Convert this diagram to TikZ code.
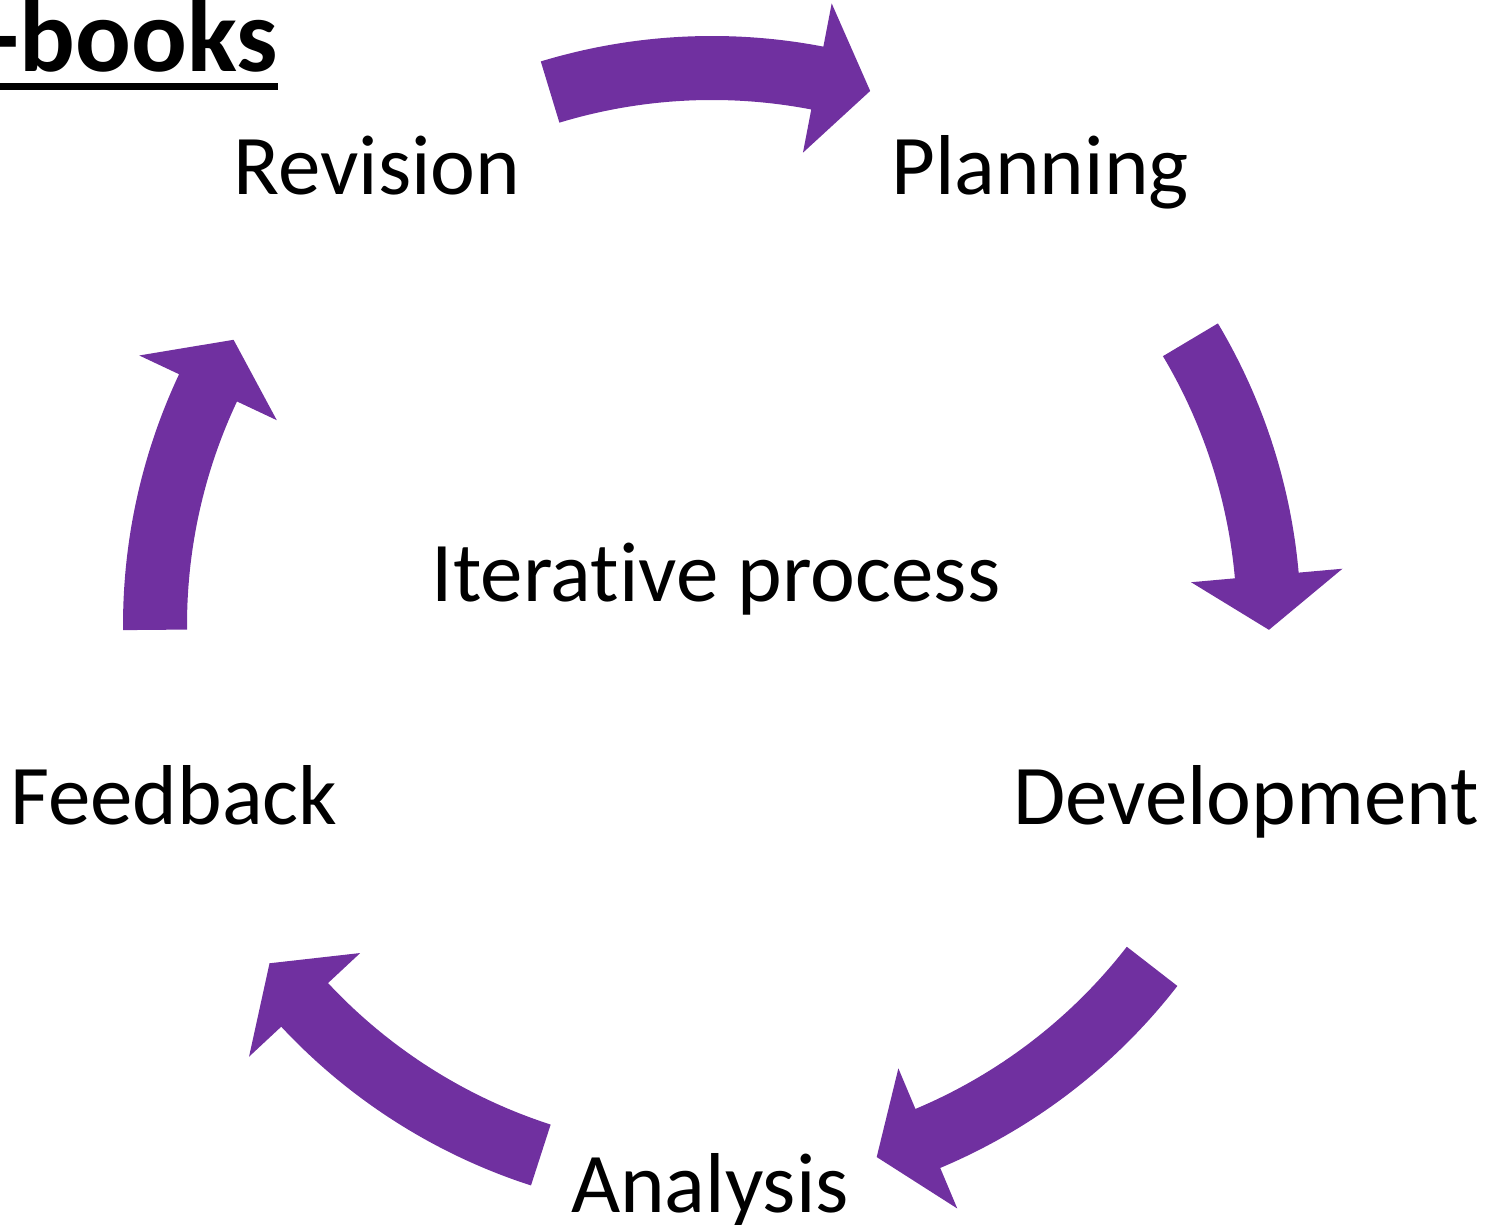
\documentclass[tikz,border=0pt]{standalone}
\usepackage{fontspec}
\setmainfont[Ligatures={NoCommon}]{Carlito}
\definecolor{cyclepurple}{HTML}{7030A0}
\tikzset{
  steplabel/.style={anchor=base, inner sep=0pt, font=\fontsize{42.5}{51}\selectfont},
  cyclearrow/.style={fill=cyclepurple, draw=none}
}

\begin{document}
\begin{tikzpicture}[x=0.5pt, y=0.5pt]
    \useasboundingbox (0,0) rectangle (1496,1225);

    % title, cut at the left edge
    \node[anchor=base east, inner sep=0pt, font=\fontsize{52}{62}\selectfont\bfseries]
        (title) at (278,1153) {-books};
    \draw[line width=3.5pt] ([yshift=-7.25pt]title.base west) -- ([yshift=-7.25pt]title.base east);

    % the five labels and the middle
    \node[steplabel] (revision) at (377,1030) {Revision};
    \node[steplabel] (planning) at (1040,1030) {Planning};
    \node[steplabel] (development) at (1246,400) {Development};
    \node[steplabel] (analysis) at (710,12) {Analysis};
    \node[steplabel] (feedback) at (174,400) {Feedback};
    \node[steplabel] (middle) at (716,623) {Iterative process};

    % curved block arrows round the cycle (tail angle / tip angle)
    \begin{scope}[shift={(712,600)}]
    \foreach \tl/\tp in {106.9/73.5, 30.8/-0.5, -37.8/-72.8, -107.9/-142.6, 180.5/149.2} {
        \pgfmathsetmacro{\hd}{\tp+5.6}
        \fill[cyclearrow] (\tl:589) arc[start angle=\tl, end angle=\hd, radius=589]
            -- (\hd:633) -- (\tp:557) -- (\hd:481) -- (\hd:525)
            arc[start angle=\hd, end angle=\tl, radius=525] -- cycle;
    }
    \end{scope}
\end{tikzpicture}
\end{document}
